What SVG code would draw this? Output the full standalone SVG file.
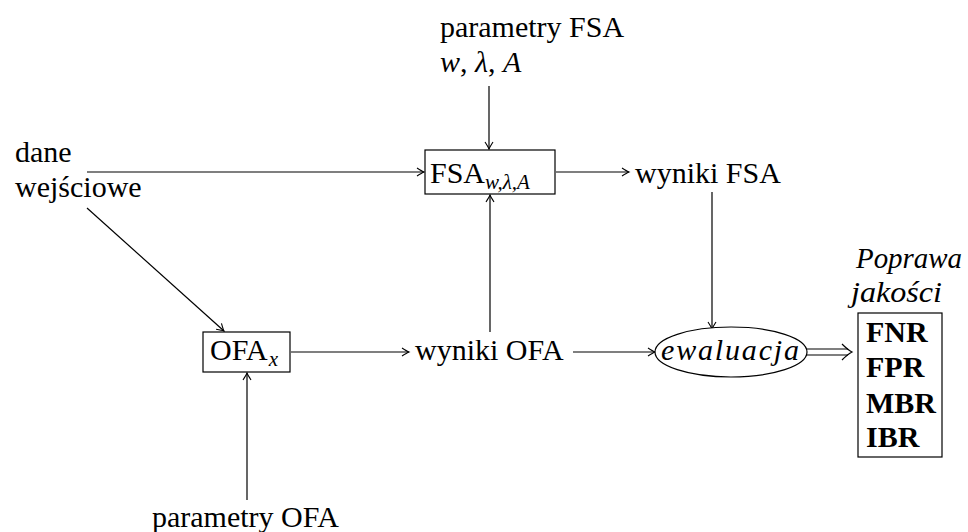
<svg xmlns="http://www.w3.org/2000/svg" width="968" height="532" viewBox="0 0 968 532">
<style>
text{font-family:"Liberation Serif","Times New Roman",serif;font-size:30px;fill:#000}
.it{font-style:italic}
.b{font-weight:bold}
.sub{font-size:21px;font-style:italic}
.box{fill:#fff;stroke:#000;stroke-width:1.2}
.ln{fill:none;stroke:#000;stroke-width:1.2}
</style>
<defs>
<marker id="ar" markerUnits="userSpaceOnUse" markerWidth="14" markerHeight="12" viewBox="-8 -6 10 12" refX="0" refY="0" orient="auto">
<path d="M-7,-4 Q-2,-0.8 0,0 Q-2,0.8 -7,4" fill="none" stroke="#000" stroke-width="1.1"/>
</marker>
</defs>
<g id="connectors">
<line class="ln" x1="489" y1="86" x2="489" y2="149" marker-end="url(#ar)"/>
<line class="ln" x1="87" y1="172" x2="424" y2="172" marker-end="url(#ar)"/>
<line class="ln" x1="556" y1="172" x2="629" y2="172" marker-end="url(#ar)"/>
<line class="ln" x1="712" y1="192" x2="712" y2="329" marker-end="url(#ar)"/>
<line class="ln" x1="87" y1="208" x2="224" y2="331" marker-end="url(#ar)"/>
<line class="ln" x1="291" y1="352" x2="409" y2="352" marker-end="url(#ar)"/>
<line class="ln" x1="490" y1="332" x2="490" y2="195" marker-end="url(#ar)"/>
<line class="ln" x1="573" y1="352" x2="655" y2="352" marker-end="url(#ar)"/>
<line class="ln" x1="247" y1="500" x2="247" y2="373" marker-end="url(#ar)"/>
<g id="double-arrow">
<line class="ln" x1="806" y1="349" x2="848" y2="349"/>
<line class="ln" x1="806" y1="355" x2="848" y2="355"/>
<path class="ln" d="M842,344 Q848,350 852,352 Q848,354 842,360"/>
</g>
</g>
<g id="param-fsa">
<text x="440" y="37">parametry FSA</text>
<text x="440" y="72"><tspan class="it">w</tspan>, <tspan class="it">λ</tspan>, <tspan class="it">A</tspan></text>
</g>
<g id="dane">
<text x="15" y="162">dane</text>
<text x="15" y="197">wejściowe</text>
</g>
<g id="fsa">
<rect class="box" x="425" y="150" width="130" height="44"/>
<text x="430" y="183">FSA<tspan class="sub" dy="6">w,λ,A</tspan></text>
</g>
<g id="wyniki-fsa">
<text x="635" y="183">wyniki FSA</text>
</g>
<g id="ofa">
<rect class="box" x="203" y="332" width="87" height="40"/>
<text x="210" y="360">OFA<tspan class="sub" dx="1" dy="6">x</tspan></text>
</g>
<g id="wyniki-ofa">
<text x="415" y="360">wyniki OFA</text>
</g>
<g id="ewaluacja">
<ellipse class="box" cx="731" cy="352" rx="76" ry="25"/>
<text class="it" x="661" y="360" textLength="138" lengthAdjust="spacing">ewaluacja</text>
</g>
<g id="poprawa">
<text class="it" x="856" y="268" textLength="106" lengthAdjust="spacingAndGlyphs">Poprawa</text>
<text class="it" x="851" y="302" textLength="91" lengthAdjust="spacingAndGlyphs">jakości</text>
<rect class="box" x="858" y="313" width="84" height="144"/>
<text class="b" x="866" y="342">FNR</text>
<text class="b" x="866" y="377">FPR</text>
<text class="b" x="866" y="413">MBR</text>
<text class="b" x="866" y="447">IBR</text>
</g>
<g id="param-ofa">
<text x="152" y="527">parametry OFA</text>
</g>
</svg>
